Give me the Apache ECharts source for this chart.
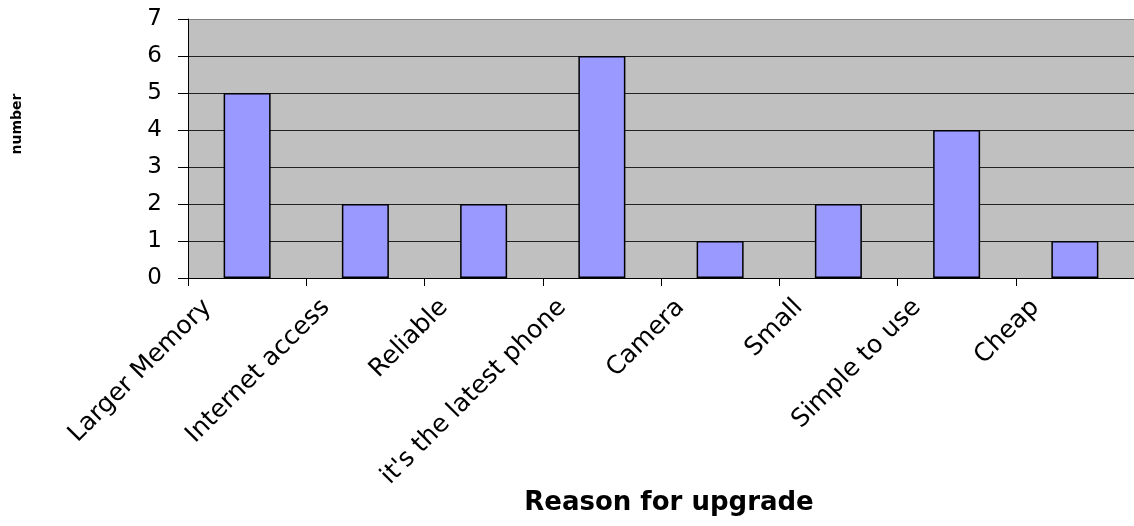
<!DOCTYPE html>
<html><head><meta charset="utf-8">
<script src="https://cdn.jsdelivr.net/npm/echarts@6/dist/echarts.min.js"></script>
<style>html,body{margin:0;padding:0;background:#fff}#c{width:1134px;height:526px}</style>
</head><body><div id="c"></div>
<script>
const categories = ["Larger Memory","Internet access","Reliable","it's the latest phone","Camera","Small","Simple to use","Cheap"];
const values = [5,2,2,6,1,2,4,1];
const yTicks = [0,1,2,3,4,5,6,7];
const xTitle = "Reason for upgrade";
const yTitle = "number";

const chart = echarts.init(document.getElementById('c'));
chart.setOption({
  animation:false,
  backgroundColor:'#ffffff',
  grid:{left:188,right:-9,top:19,bottom:248,containLabel:false,show:true,backgroundColor:'#c0c0c0',borderWidth:0},
  title:[{text:xTitle,left:664,top:485,textAlign:'center',textStyle:{fontFamily:'DejaVu Sans',fontWeight:'bold',fontSize:26,color:'#000'}}],
  graphic:[{type:'text',x:17,y:124,rotation:Math.PI/2,style:{text:yTitle,fontFamily:'DejaVu Sans',fontWeight:'bold',fontSize:14,fill:'#000',align:'center',verticalAlign:'middle'}}],
  xAxis:{type:'category',data:categories,
    axisLine:{lineStyle:{color:'#000',width:1}},
    axisTick:{show:true,length:8,alignWithLabel:false,lineStyle:{color:'#000'}},
    axisLabel:{interval:0,rotate:45,margin:-14,fontFamily:'DejaVu Sans',fontSize:25,color:'#000',padding:[0,56,0,0]},
    splitLine:{show:false}},
  yAxis:{type:'value',min:0,max:7,interval:1,
    axisLine:{show:true,lineStyle:{color:'#000',width:1}},
    axisTick:{show:true,length:10,lineStyle:{color:'#000'}},
    axisLabel:{fontFamily:'DejaVu Sans',fontSize:23,color:'#000',margin:26,formatter:v=>yTicks.includes(v)?String(v):''},
    splitLine:{show:true,lineStyle:{color:['#222','#222','#222','#222','#222','#222','#222','#808080'],width:1}}},
  series:[{type:'bar',data:values,barWidth:47,itemStyle:{color:'#9999ff',borderColor:'#000',borderWidth:1.5}}]
});
</script></body></html>
